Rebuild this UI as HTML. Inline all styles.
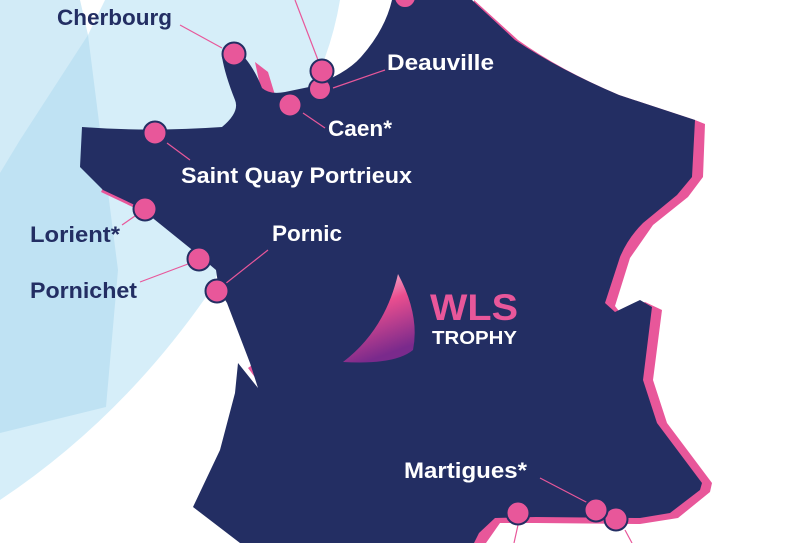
<!DOCTYPE html>
<html><head><meta charset="utf-8"><style>
html,body{margin:0;padding:0;background:#fff;}
svg{display:block;}
text{font-family:"Liberation Sans",sans-serif;font-weight:bold;}
</style></head><body>
<svg width="800" height="543" viewBox="0 0 800 543" xmlns="http://www.w3.org/2000/svg">
<defs>
<linearGradient id="sail" x1="0" y1="0" x2="0.3" y2="1">
<stop offset="0" stop-color="#fbe3ee"/><stop offset="0.45" stop-color="#e94e8f"/><stop offset="1" stop-color="#7a2a8c"/>
</linearGradient>
</defs>
<!-- sea -->
<path d="M0 0 L340 0 Q330 60 300 110 L260 180 Q230 250 206 297 Q120 420 0 500 Z" fill="#d6eef9"/>
<path d="M0 0 L80 0 L88 35 L100 130 L118 270 L106 407 L0 433 Z" fill="#bfe2f3"/>
<path d="M0 0 L80 0 L88 35 L20 140 L0 173 Z" fill="#d2ebf7"/>
<path d="M80 0 L105 0 L88 35 Z" fill="#fff"/>
<!-- pink shadow -->
<path d="M474 0 L518 40 Q560 70 619 95 L695 120 L705 124 L703 177 L688 197 L653 225 L630 258 L615 306 L622 315 L645 302 L662 310 L653 380 L667 423 L712 483 L710 492 L678 518 L640 524 L536 523 L500 523 L486 543 L474 543 Z" fill="#e8579a"/>
<path d="M255 62 L268 72 L275 95 L262 95 Z" fill="#e8579a"/>
<path d="M248 368 L263 388 L252 365 Z" fill="#e8579a"/>
<path d="M103 188 L141 206 L139 210 L101 192 Z" fill="#e8579a"/>
<!-- France -->
<path d="M392 0 L472 0 L515 40 Q560 70 619 95 L695 120 L692 177 L677 195 L643 223 Q628 238 620 257 L605 303 L615 312 L640 300 L652 307 L643 380 L657 423 L702 483 L700 490 L670 513 L640 518 L536 517 L495 518 L479 533 L474 543 L240 543 L193 507 L220 450 L235 393 L238 363 L258 388 L250 363 L227 303 L219 290 L216 270 L196 253 L139 207 L103 190 L80 167 L82 127 Q150 132 222 127 Q240 112 235 100 Q225 75 222 57 L245 58 Q255 70 262 88 Q270 95 285 92 L309 87 Q345 75 361 57 Q385 30 392 0 Z" fill="#232e63"/>
<!-- leader lines -->
<g stroke="#e8579a" stroke-width="1.2" fill="none">
<line x1="180" y1="25" x2="222" y2="48"/>
<line x1="295" y1="0" x2="318" y2="60"/>
<line x1="385" y1="70" x2="333" y2="88"/>
<line x1="325" y1="128" x2="303" y2="113"/>
<line x1="190" y1="160" x2="167" y2="143"/>
<line x1="122" y1="225" x2="135" y2="216"/>
<line x1="140" y1="282" x2="188" y2="264"/>
<line x1="268" y1="250" x2="225" y2="284"/>
<line x1="540" y1="478" x2="588" y2="503"/>
<line x1="518" y1="525" x2="514" y2="543"/>
<line x1="625" y1="530" x2="632" y2="543"/>
</g>
<!-- dots -->
<g fill="#e8579a" stroke="#232e63" stroke-width="2">
<circle cx="405" cy="-3" r="11"/>
<circle cx="234" cy="54" r="11.5"/>
<circle cx="320" cy="89" r="11"/>
<circle cx="322" cy="71" r="11.5"/>
<circle cx="290" cy="105" r="11.5"/>
<circle cx="155" cy="133" r="11.5"/>
<circle cx="145" cy="209" r="11.5"/>
<circle cx="199" cy="259" r="11.5"/>
<circle cx="217" cy="291" r="11.5"/>
<circle cx="518" cy="513" r="11.5"/>
<circle cx="616" cy="519" r="11.5"/>
<circle cx="596" cy="510" r="11.5"/>
</g>
<!-- logo -->
<path d="M398 274 Q420 315 413 350 Q395 365 343 362 Q385 330 398 274 Z" fill="url(#sail)"/>
<text x="430" y="320" font-size="37" fill="#e8579a" textLength="88" lengthAdjust="spacingAndGlyphs">WLS</text>
<text x="432" y="344" font-size="18" fill="#fff" textLength="85" lengthAdjust="spacingAndGlyphs">TROPHY</text>
<!-- labels -->
<g font-size="22">
<text x="57" y="25" fill="#232e63" textLength="115" lengthAdjust="spacingAndGlyphs">Cherbourg</text>
<text x="387" y="70" fill="#fff" textLength="107" lengthAdjust="spacingAndGlyphs">Deauville</text>
<text x="328" y="136" fill="#fff" textLength="64" lengthAdjust="spacingAndGlyphs">Caen*</text>
<text x="181" y="183" fill="#fff" textLength="231" lengthAdjust="spacingAndGlyphs">Saint Quay Portrieux</text>
<text x="30" y="242" fill="#232e63" textLength="90" lengthAdjust="spacingAndGlyphs">Lorient*</text>
<text x="272" y="241" fill="#fff" textLength="70" lengthAdjust="spacingAndGlyphs">Pornic</text>
<text x="30" y="298" fill="#232e63" textLength="107" lengthAdjust="spacingAndGlyphs">Pornichet</text>
<text x="404" y="478" fill="#fff" textLength="123" lengthAdjust="spacingAndGlyphs">Martigues*</text>
</g>
</svg>
</body></html>
